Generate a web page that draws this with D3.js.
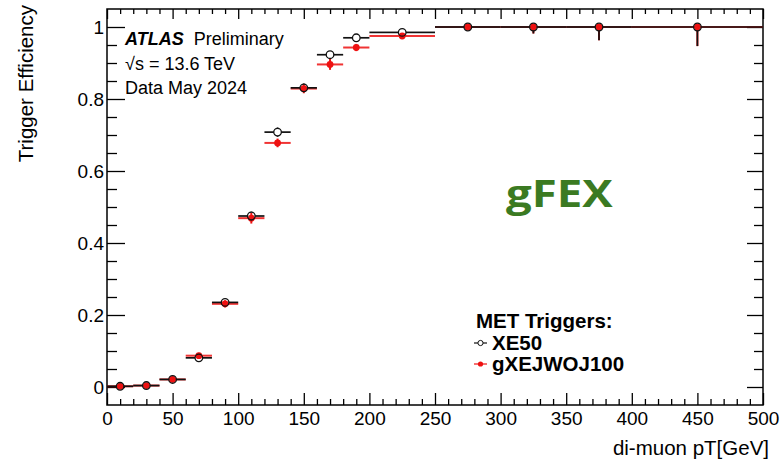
<!DOCTYPE html>
<html><head><meta charset="utf-8">
<script src="https://cdn.jsdelivr.net/npm/d3@7"></script>
<style>
body{margin:0;background:#fff;}
svg{display:block;font-family:"Liberation Sans",Arial,Helvetica,sans-serif;}
</style></head>
<body><svg id="c" width="782" height="463"></svg>
<script>
// ---- data ----
const binLo = [0,20,40,60,80,100,120,140,160,180,200,250,300,350,400];
const binHi = [20,40,60,80,100,120,140,160,180,200,250,300,350,400,500];
const xe50      = [0.002,0.004,0.021,0.081,0.235,0.475,0.708,0.831,0.923,0.970,0.985,1.0,1.0,1.0,1.0];
const xe50ErrLo = [0.001,0.002,0.004,0.008,0.010,0.012,0.013,0.012,0.009,0.006,0.004,0.003,0.018,0.037,0.053];
const xe50ErrHi = [0.001,0.002,0.004,0.008,0.010,0.012,0.013,0.012,0.009,0.006,0.004,0,0,0,0];
const gxe      = [0.002,0.004,0.021,0.087,0.231,0.469,0.678,0.829,0.896,0.943,0.975,1.0,1.0,1.0,1.0];
const gxeErrLo = [0.001,0.002,0.004,0.008,0.010,0.015,0.012,0.013,0.015,0.010,0.005,0.003,0.018,0.037,0.053];
const gxeErrHi = [0.001,0.002,0.004,0.008,0.010,0.015,0.012,0.013,0.015,0.010,0.005,0,0,0,0];
const xMajor = [0,50,100,150,200,250,300,350,400,450,500];
const yMajor = [0,0.2,0.4,0.6,0.8,1];
const yLabels = ["0","0.2","0.4","0.6","0.8","1"];
const xTitle = "di-muon pT[GeV]";
const yTitle = "Trigger Efficiency";
const legendTitle = "MET Triggers:";
const seriesNames = ["XE50","gXEJWOJ100"];
const infoLines = ["√s = 13.6 TeV","Data May 2024"];

// ---- layout ----
const L=107, R=763, T=9, B=405;
const svg = d3.select("#c");
svg.append("rect").attr("width",782).attr("height",463).attr("fill","#fff");
const x = d3.scaleLinear().domain([0,500]).range([L,R]);
const y = d3.scaleLinear().domain([-0.05,1.05]).range([B,T]);
const xMinor = d3.range(0,501,10).filter(v=>v%50!==0);
const yMinor = d3.range(1,21).map(i=>+(i*0.05).toFixed(2)).filter(v=>!yMajor.some(m=>Math.abs(m-v)<1e-6));

const axStyle = g=>{g.select(".domain").remove(); g.selectAll("line").attr("stroke","#000").attr("stroke-width",1.3);
  g.selectAll("text").attr("fill","#000").attr("font-size",19).attr("font-family","Liberation Sans, Arial, sans-serif");};

svg.append("g").attr("transform",`translate(0,${B})`).call(d3.axisBottom(x).tickValues(xMajor).tickSize(-12).tickPadding(7).tickFormat(d3.format("d"))).call(axStyle);
svg.append("g").attr("transform",`translate(0,${B})`).call(d3.axisBottom(x).tickValues(xMinor).tickSize(-6).tickFormat("")).call(axStyle);
svg.append("g").attr("transform",`translate(0,${T})`).call(d3.axisTop(x).tickValues(xMajor).tickSize(-10).tickFormat("")).call(axStyle);
svg.append("g").attr("transform",`translate(0,${T})`).call(d3.axisTop(x).tickValues(xMinor).tickSize(-5).tickFormat("")).call(axStyle);
svg.append("g").attr("transform",`translate(${L},0)`).call(d3.axisLeft(y).tickValues(yMajor).tickSize(-18).tickPadding(3).tickFormat((d,i)=>yLabels[i])).call(axStyle);
svg.append("g").attr("transform",`translate(${L},0)`).call(d3.axisLeft(y).tickValues(yMinor).tickSize(-10).tickFormat("")).call(axStyle);
svg.append("g").attr("transform",`translate(${R},0)`).call(d3.axisRight(y).tickValues(yMajor).tickSize(-16).tickFormat("")).call(axStyle);
svg.append("g").attr("transform",`translate(${R},0)`).call(d3.axisRight(y).tickValues(yMinor).tickSize(-9).tickFormat("")).call(axStyle);
svg.append("rect").attr("x",L).attr("y",T).attr("width",R-L).attr("height",B-T).attr("fill","none").attr("stroke","#000").attr("stroke-width",1.5);

// axis titles
svg.append("text").attr("x",R+6).attr("y",455).attr("text-anchor","end").attr("font-size",20.5).text(xTitle);
svg.append("text").attr("transform",`translate(33,5) rotate(-90)`).attr("text-anchor","end").attr("font-size",20.5).text(yTitle);

// ---- data points ----
const red="#ee1111";
const idx = d3.range(binLo.length);
const rg = svg.append("g");
idx.forEach(i=>{
  rg.append("line").attr("x1",x(binLo[i])).attr("x2",x(binHi[i])).attr("y1",y(gxe[i])).attr("y2",y(gxe[i])).attr("stroke",red).attr("stroke-width",2).attr("opacity",0.85);
  rg.append("line").attr("x1",x((binLo[i]+binHi[i])/2)).attr("x2",x((binLo[i]+binHi[i])/2)).attr("y1",y(gxe[i]-gxeErrLo[i])).attr("y2",y(gxe[i]+gxeErrHi[i])).attr("stroke",red).attr("stroke-width",2);
});
rg.selectAll("circle").data(idx).join("circle").attr("cx",i=>x((binLo[i]+binHi[i])/2)).attr("cy",i=>y(gxe[i])).attr("r",3.4).attr("fill",red);

const bg = svg.append("g");
const r0=3.8;
idx.forEach(i=>{
  const cx=x((binLo[i]+binHi[i])/2), cy=y(xe50[i]);
  bg.append("line").attr("x1",x(binLo[i])).attr("x2",cx-r0).attr("y1",cy).attr("y2",cy).attr("stroke","#111").attr("stroke-width",1.7);
  bg.append("line").attr("x1",cx+r0).attr("x2",x(binHi[i])).attr("y1",cy).attr("y2",cy).attr("stroke","#111").attr("stroke-width",1.7);
  const lo=y(xe50[i]-xe50ErrLo[i]), hi=y(xe50[i]+xe50ErrHi[i]);
  if(lo>cy+r0) bg.append("line").attr("x1",cx).attr("x2",cx).attr("y1",cy+r0).attr("y2",lo).attr("stroke","#111").attr("stroke-width",1.7);
  if(hi<cy-r0) bg.append("line").attr("x1",cx).attr("x2",cx).attr("y1",cy-r0).attr("y2",hi).attr("stroke","#111").attr("stroke-width",1.7);
});
bg.selectAll("circle").data(idx).join("circle").attr("cx",i=>x((binLo[i]+binHi[i])/2)).attr("cy",i=>y(xe50[i])).attr("r",r0).attr("fill","none").attr("stroke","#111").attr("stroke-width",1.3);

// ---- ATLAS label ----
const t1 = svg.append("text").attr("x",125).attr("y",45).attr("font-size",18);
t1.append("tspan").attr("font-weight","bold").attr("font-style","italic").text("ATLAS");
t1.append("tspan").attr("dx",10).text("Preliminary");
infoLines.forEach((s,i)=>svg.append("text").attr("x",125).attr("y",70+i*24).attr("font-size",18).text(s));

// ---- gFEX ----
svg.append("text").attr("transform","translate(506,207) scale(1.2,1)").attr("font-size",38).attr("font-weight","bold")
  .attr("font-family","'Open Sans', sans-serif").attr("fill","#3b7a22").text("gFEX");

// ---- legend ----
svg.append("text").attr("x",476).attr("y",328).attr("font-size",20.5).attr("font-weight","bold").text(legendTitle);
const ly=[343,364];
seriesNames.forEach((s,i)=>{
  svg.append("text").attr("x",492).attr("y",ly[i]+7).attr("font-size",20.5).attr("font-weight","bold").text(s);
  svg.append("line").attr("x1",474).attr("x2",487).attr("y1",ly[i]).attr("y2",ly[i]).attr("stroke",i===0?"#111":red).attr("stroke-width",1.2);
});
svg.append("circle").attr("cx",480.5).attr("cy",ly[0]).attr("r",2.6).attr("fill","#fff").attr("stroke","#111").attr("stroke-width",1);
svg.append("circle").attr("cx",480.5).attr("cy",ly[1]).attr("r",2.6).attr("fill",red);
</script></body></html>
